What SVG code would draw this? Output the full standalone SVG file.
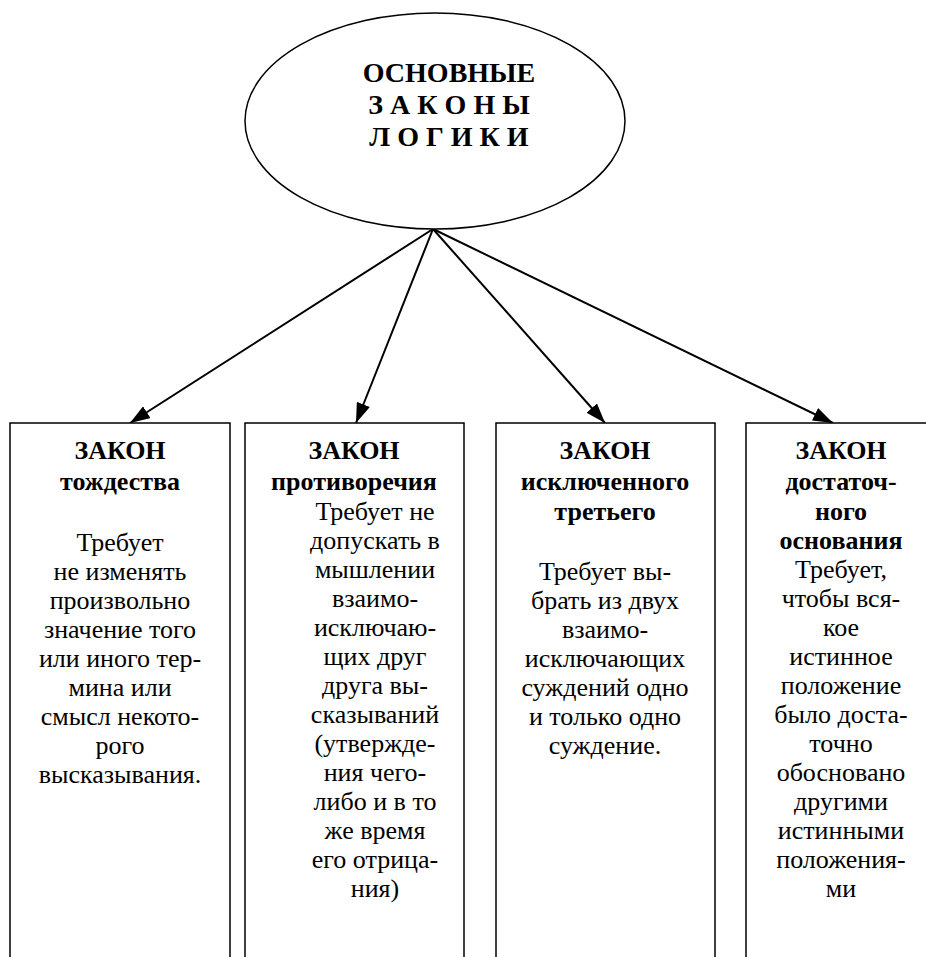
<svg xmlns="http://www.w3.org/2000/svg" width="926" height="957" viewBox="0 0 926 957">
<defs>
<marker id="ah" viewBox="0 0 20 14" refX="20" refY="7" markerWidth="20" markerHeight="14" markerUnits="userSpaceOnUse" orient="auto">
<path d="M0,0 L20,7 L0,14 Z" fill="#000"/>
</marker>
<style>
text{font-family:"Liberation Serif","Times New Roman",serif;fill:#000;text-anchor:middle}
.t{font-size:28px;font-weight:bold}
.h{font-size:26px;font-weight:bold}
.b{font-size:26px}
.box{fill:#fff;stroke:#000;stroke-width:1.5}
.c{stroke:#000;stroke-width:2;fill:none}
</style>
</defs>
<rect width="926" height="957" fill="#fff"/>
<g id="connectors">
<line class="c" x1="433" y1="229" x2="130" y2="423" marker-end="url(#ah)"/>
<line class="c" x1="433" y1="229" x2="356" y2="423" marker-end="url(#ah)"/>
<line class="c" x1="433" y1="229" x2="605" y2="423" marker-end="url(#ah)"/>
<line class="c" x1="433" y1="229" x2="833" y2="423" marker-end="url(#ah)"/>
</g>
<g id="root">
<ellipse cx="435" cy="121" rx="190" ry="108" fill="#fff" stroke="#000" stroke-width="1.5"/>
<text class="t" x="449" y="82">ОСНОВНЫЕ</text>
<text class="t" x="449" y="114">З А К О Н Ы</text>
<text class="t" x="449" y="146">Л О Г И К И</text>
</g>
<g id="law1">
<path class="box" d="M10,960 V423 H230 V960"/>
<text class="h" x="120" y="459">ЗАКОН</text>
<text class="h" x="120" y="490">тождества</text>
<text class="b" x="120"><tspan x="120" y="551">Требует</tspan><tspan x="120" y="580">не изменять</tspan><tspan x="120" y="609">произвольно</tspan><tspan x="120" y="638">значение того</tspan><tspan x="120" y="667">или иного тер-</tspan><tspan x="120" y="696">мина или</tspan><tspan x="120" y="725">смысл некото-</tspan><tspan x="120" y="754">рого</tspan><tspan x="120" y="783">высказывания.</tspan></text>
</g>
<g id="law2">
<path class="box" d="M245,960 V423 H464 V960"/>
<text class="h" x="354" y="459">ЗАКОН</text>
<text class="h" x="354" y="490">противоречия</text>
<text class="b"><tspan x="375" y="520">Требует не</tspan><tspan x="375" y="549">допускать в</tspan><tspan x="375" y="578">мышлении</tspan><tspan x="375" y="607">взаимо-</tspan><tspan x="375" y="636">исключаю-</tspan><tspan x="375" y="665">щих друг</tspan><tspan x="375" y="694">друга вы-</tspan><tspan x="375" y="723">сказываний</tspan><tspan x="375" y="752">(утвержде-</tspan><tspan x="375" y="781">ния чего-</tspan><tspan x="375" y="810">либо и в то</tspan><tspan x="375" y="839">же время</tspan><tspan x="375" y="868">его отрица-</tspan><tspan x="375" y="897">ния)</tspan></text>
</g>
<g id="law3">
<path class="box" d="M496,960 V423 H715 V960"/>
<text class="h" x="605" y="459">ЗАКОН</text>
<text class="h" x="605" y="490">исключенного</text>
<text class="h" x="605" y="520">третьего</text>
<text class="b"><tspan x="605" y="580">Требует вы-</tspan><tspan x="605" y="609">брать из двух</tspan><tspan x="605" y="638">взаимо-</tspan><tspan x="605" y="667">исключающих</tspan><tspan x="605" y="696">суждений одно</tspan><tspan x="605" y="725">и только одно</tspan><tspan x="605" y="754">суждение.</tspan></text>
</g>
<g id="law4">
<path class="box" d="M746,960 V423 H936 V960"/>
<text class="h" x="841" y="459">ЗАКОН</text>
<text class="h" x="841" y="490">достаточ-</text>
<text class="h" x="841" y="520">ного</text>
<text class="h" x="841" y="549">основания</text>
<text class="b"><tspan x="841" y="578">Требует,</tspan><tspan x="841" y="607">чтобы вся-</tspan><tspan x="841" y="636">кое</tspan><tspan x="841" y="665">истинное</tspan><tspan x="841" y="694">положение</tspan><tspan x="841" y="723">было доста-</tspan><tspan x="841" y="752">точно</tspan><tspan x="841" y="781">обосновано</tspan><tspan x="841" y="810">другими</tspan><tspan x="841" y="839">истинными</tspan><tspan x="841" y="868">положения-</tspan><tspan x="841" y="897">ми</tspan></text>
</g>
</svg>
